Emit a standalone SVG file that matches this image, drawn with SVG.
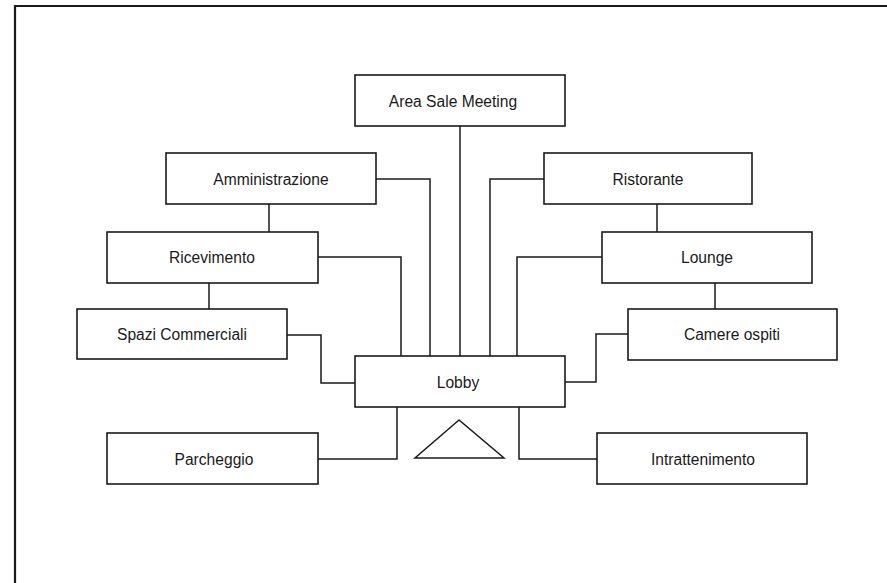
<svg xmlns="http://www.w3.org/2000/svg" width="887" height="583" viewBox="0 0 887 583">
<style>
.box{fill:#fff;stroke:#1a1a1a;stroke-width:1.6}
.lbl{font-family:"Liberation Sans",Arial,sans-serif;font-size:15.6px;fill:#1a1a1a;text-anchor:middle;dominant-baseline:central}
.con{fill:none;stroke:#1a1a1a;stroke-width:1.5}
</style>
<rect width="887" height="583" fill="#fff"/>
<path d="M15,590 V6 H892" fill="none" stroke="#1a1a1a" stroke-width="2.2"/>
<g id="connectors">
<path class="con" d="M460,126 V356"/>
<path class="con" d="M376,179 H430 V356"/>
<path class="con" d="M269,204 V232"/>
<path class="con" d="M544,179 H490 V356"/>
<path class="con" d="M657,204 V232"/>
<path class="con" d="M318,257 H401 V356"/>
<path class="con" d="M209,283 V309"/>
<path class="con" d="M602,257 H517 V356"/>
<path class="con" d="M715,283 V309"/>
<path class="con" d="M287,335 H321 V383 H355"/>
<path class="con" d="M628,334 H596 V382 H565"/>
<path class="con" d="M318,459 H397 V407"/>
<path class="con" d="M597,459 H519 V407"/>
</g>
<g id="triangle"><polygon points="459,420 415,458 504,458" fill="none" stroke="#1a1a1a" stroke-width="1.5"/></g>
<g id="area-sale-meeting"><rect class="box" x="355" y="75" width="210" height="51"/><text class="lbl" x="453" y="101">Area Sale Meeting</text></g>
<g id="amministrazione"><rect class="box" x="166" y="153" width="210" height="51"/><text class="lbl" x="271" y="179">Amministrazione</text></g>
<g id="ristorante"><rect class="box" x="544" y="153" width="208" height="51"/><text class="lbl" x="648" y="179">Ristorante</text></g>
<g id="ricevimento"><rect class="box" x="107" y="232" width="211" height="51"/><text class="lbl" x="212" y="257">Ricevimento</text></g>
<g id="lounge"><rect class="box" x="602" y="232" width="210" height="51"/><text class="lbl" x="707" y="257">Lounge</text></g>
<g id="spazi-commerciali"><rect class="box" x="77" y="309" width="210" height="50"/><text class="lbl" x="182" y="334">Spazi Commerciali</text></g>
<g id="camere-ospiti"><rect class="box" x="628" y="309" width="209" height="51"/><text class="lbl" x="732" y="334">Camere ospiti</text></g>
<g id="lobby"><rect class="box" x="355" y="356" width="210" height="51"/><text class="lbl" x="458" y="382">Lobby</text></g>
<g id="parcheggio"><rect class="box" x="107" y="433" width="211" height="51"/><text class="lbl" x="214" y="459">Parcheggio</text></g>
<g id="intrattenimento"><rect class="box" x="597" y="433" width="210" height="51"/><text class="lbl" x="703" y="459">Intrattenimento</text></g>
</svg>
